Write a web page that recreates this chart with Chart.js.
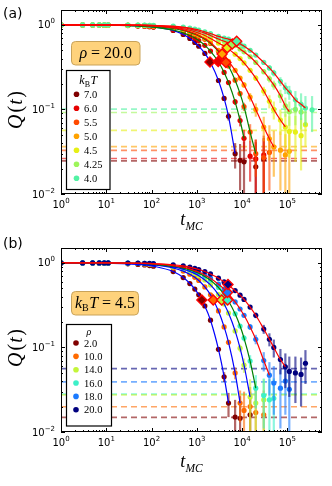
<!DOCTYPE html>
<html>
<head>
<meta charset="utf-8">
<script src="https://cdn.jsdelivr.net/npm/chart.js@4.4.1/dist/chart.umd.min.js"></script>
<style>
  html, body { margin: 0; padding: 0; background: #fff; }
  #wrap { position: relative; width: 332px; height: 486px; }
  canvas { position: absolute; left: 0; }
</style>
</head>
<body>
<div id="wrap">
  <canvas id="chartA" width="332" height="232" style="top:0"></canvas>
  <canvas id="chartB" width="332" height="254" style="top:232px"></canvas>
</div>
<script>
// ---- shared axes ----
const TIMES = [1, 3, 5, 7, 9, 11, 30, 50, 70, 90, 110, 300, 500, 700, 900, 1100, 1500, 2000, 3000, 4000,
  5000, 7000, 9000, 11000, 15000, 20000, 30000, 40000, 50000, 70000, 90000, 110000, 150000, 200000, 250000, 350000];
const X_MIN = 1, X_MAX = 5.8e5;
const Y_MIN = 0.01, Y_MAX = 1.5;
const X_TICKS = [1, 10, 100, 1000, 10000, 100000];
const X_EXP = ['0', '1', '2', '3', '4', '5'];
const Y_TICKS = [0.01, 0.1, 1];
const Y_EXP = ['\u22122', '\u22121', '0'];

// ---- panel (a): rho = 20.0, several kB T ----
const kT_LABELS = ['7.0', '6.0', '5.5', '5.0', '4.5', '4.25', '4.0'];
const kT_COLORS = ['#800000', '#e60000', '#ff4a00', '#ffa200', '#e6ef16', '#9df55a', '#52f2a4'];
const kT_FIT_COLORS = ['#0000ff', '#008000', '#008000', '#ff0000', '#ff0000', '#ff0000', '#ff0000'];
const kT_FIT_END = [7000, 11000, 20000, 50000, 90000, 110000, 250000];
const kT_PLATEAU = [0.0246, 0.0263, 0.0328, 0.0363, 0.0566, 0.092, 0.101];
const kT_TAU = [1950, 2960, 4380, 3600, 4700, 6040, 7570];
const kT_Q_TAU = [0.365, 0.37, 0.36, 0.454, 0.535, 0.596, 0.64];

const Q_kT70 = [1, .998, .997, .996, .995, .994, .985, .975, .965, .955, .945, .86, .77, .69, .62, .56, .46, .36, .22, .135, .083, .03, .025, .024, null, .021, .026];
const Q_kT60 = [.999, .997, .996, .994, .993, .992, .981, .97, .961, .95, .943, .87, .806, .749, .698, .652, .573, .49, .364, .274, .208, .123, .074, .0455, .028, .026, .029];
const Q_kT55 = [.999, .998, .997, .996, .995, .995, .987, .98, .973, .967, .96, .907, .86, .816, .777, .74, .675, .603, .487, .397, .326, .222, .154, .108, .054, .03, .027, .031];
const Q_kT50 = [1, .999, .998, .997, .996, .996, .99, .985, .98, .975, .97, .92, .875, .83, .79, .755, .69, .62, .5, .43, .37, .29, .235, .195, .14, .1, .062, .045, .036, .033, .029, .032];
const Q_kT45 = [1, .999, .999, .998, .998, .997, .993, .99, .986, .982, .978, .94, .9, .865, .83, .8, .75, .69, .61, .56, .52, .45, .4, .355, .29, .235, .165, .125, .1, .075, .062, .055, .054, .049, .066];
const Q_kT425 = [1, 1, .999, .999, .998, .998, .995, .992, .989, .986, .983, .955, .925, .895, .865, .84, .8, .75, .68, .64, .615, .57, .52, .48, .42, .36, .28, .23, .195, .145, .11, .094, .1, .093];
const Q_kT40 = [1, 1, 1, .999, .999, .999, .996, .994, .992, .99, .987, .965, .94, .915, .89, .87, .83, .79, .73, .7, .68, .645, .6, .56, .5, .44, .36, .31, .27, .215, .18, .16, .13, .115, .104, .099];

const E_kT70 = [0, 0, 0, 0, 0, 0, 0, 0, 0, 0, .002, .004, .005, .005, .006, .006, .006, .007, .008, .008, .009, .01, .014, .018, 0, .02, .02];
const E_kT60 = [0, 0, 0, 0, 0, 0, 0, 0, 0, 0, .002, .004, .005, .005, .006, .006, .006, .007, .008, .008, .009, .01, .011, .012, .014, .018, .02];
const E_kT55 = [0, 0, 0, 0, 0, 0, 0, 0, 0, 0, .002, .004, .005, .005, .006, .006, .006, .007, .008, .008, .009, .01, .011, .012, .013, .014, .018, .02];
const E_kT50 = [0, 0, 0, 0, 0, 0, 0, 0, 0, 0, .002, .004, .005, .005, .006, .006, .007, .008, .009, .01, .011, .012, .013, .014, .016, .018, .02, .02, .02, .022, .022, .022];
const E_kT45 = [0, 0, 0, 0, 0, 0, 0, 0, 0, 0, .002, .003, .004, .005, .005, .006, .007, .008, .009, .01, .011, .012, .013, .014, .016, .018, .02, .022, .024, .025, .026, .028, .03, .03, .03];
const E_kT425 = [0, 0, 0, 0, 0, 0, 0, 0, 0, 0, .002, .003, .004, .005, .005, .006, .007, .008, .009, .01, .011, .012, .013, .014, .016, .018, .02, .022, .024, .026, .028, .03, .035, .035];
const E_kT40 = [0, 0, 0, 0, 0, 0, 0, 0, 0, 0, .002, .003, .004, .005, .005, .006, .007, .008, .009, .01, .011, .012, .013, .014, .016, .018, .02, .022, .024, .026, .028, .03, .035, .04, .04, .045];

// ---- panel (b): kB T = 4.5, several rho ----
const RHO_LABELS = ['2.0', '10.0', '14.0', '16.0', '18.0', '20.0'];
const RHO_COLORS = ['#800000', '#ff6a00', '#c4f53a', '#3df0c8', '#1a7aff', '#00007f'];
const RHO_FIT_COLORS = ['#0000ff', '#0000ff', '#0000ff', '#008000', '#ff0000', '#ff0000'];
const RHO_FIT_END = [5000, 9000, 15000, 20000, 40000, 90000];
const RHO_PLATEAU = [0.0149, 0.0199, 0.0275, 0.028, 0.0392, 0.0563];
const RHO_TAU = [1290, 2300, 3530, 4790, 4740, 4870];
const RHO_Q_TAU = [0.364, 0.364, 0.364, 0.364, 0.447, 0.555];

const Q_rho2 = [1, .997, .995, .993, .99, .988, .975, .96, .945, .93, .915, .79, .67, .57, .49, .42, .31, .21, .095, .045, .022, .015, .0145, null, .016];
const Q_rho10 = [1, .998, .997, .996, .995, .994, .985, .978, .97, .96, .95, .87, .8, .735, .675, .62, .52, .42, .27, .175, .115, .05, .022, .018, .02, .017, .016];
const Q_rho14 = [1, .999, .998, .997, .996, .996, .99, .985, .978, .97, .957, .897, .842, .792, .747, .705, .629, .549, .422, .327, .255, .157, .098, .062, .026, .022, .024];
const Q_rho16 = [1, .999, .999, .998, .997, .997, .992, .987, .982, .975, .962, .912, .867, .826, .789, .754, .692, .624, .512, .425, .354, .25, .179, .129, .069, .033, .027, .024, .025];
const Q_rho18 = [1, 1, .999, .999, .998, .998, .994, .99, .986, .981, .975, .93, .89, .85, .81, .78, .72, .66, .56, .49, .43, .345, .285, .24, .175, .125, .07, .047, .038, .033, .04, .032];
const Q_rho20 = [1, 1, 1, .999, .999, .999, .996, .993, .99, .986, .98, .95, .92, .89, .86, .835, .79, .74, .66, .595, .545, .47, .415, .37, .3, .24, .165, .125, .1, .072, .059, .052, .05, .048, .065];

const E_rho2 = [0, 0, 0, 0, 0, 0, 0, 0, 0, 0, .002, .004, .005, .005, .006, .006, .006, .006, .006, .006, .007, .009, .012, 0, .014];
const E_rho10 = [0, 0, 0, 0, 0, 0, 0, 0, 0, 0, .002, .004, .005, .005, .006, .006, .006, .007, .007, .007, .008, .008, .009, .012, .014, .015, .015];
const E_rho14 = [0, 0, 0, 0, 0, 0, 0, 0, 0, 0, .002, .004, .005, .005, .006, .006, .006, .007, .007, .007, .008, .009, .01, .012, .016, .018, .018];
const E_rho16 = [0, 0, 0, 0, 0, 0, 0, 0, 0, 0, .002, .004, .005, .005, .006, .006, .006, .007, .007, .007, .008, .009, .01, .011, .012, .014, .016, .018, .018];
const E_rho18 = [0, 0, 0, 0, 0, 0, 0, 0, 0, 0, .002, .004, .005, .005, .006, .006, .006, .007, .007, .008, .009, .01, .011, .012, .014, .016, .018, .02, .022, .022, .024, .024];
const E_rho20 = [0, 0, 0, 0, 0, 0, 0, 0, 0, 0, .002, .004, .005, .005, .006, .006, .006, .007, .008, .009, .01, .011, .012, .014, .016, .018, .02, .022, .024, .024, .026, .026, .028, .028, .028];

// ---- helpers ----
const SERIF = '"Liberation Serif", "DejaVu Serif", serif';
const SANS = '"DejaVu Sans", sans-serif';

function alpha(hex, a) {
  const n = parseInt(hex.slice(1), 16);
  return `rgba(${n >> 16},${(n >> 8) & 255},${n & 255},${a})`;
}

function seriesPoints(q, err) {
  const pts = [];
  q.forEach((v, k) => {
    if (v !== null) pts.push({ x: TIMES[k], y: v, e: err[k] || 0 });
  });
  return pts;
}

function richWidth(ctx, segs) {
  let w = 0;
  segs.forEach(s => { ctx.font = s.font; w += ctx.measureText(s.text).width + (s.gap || 0); });
  return w;
}

function drawRich(ctx, segs, x, y) {
  segs.forEach(s => {
    ctx.font = s.font;
    ctx.fillText(s.text, x, y + (s.dy || 0));
    x += ctx.measureText(s.text).width + (s.gap || 0);
  });
}

function powSegs(exp) {
  return [{ text: '10', font: `10px ${SANS}` }, { text: exp, font: `7px ${SANS}`, dy: -5 }];
}

function roundRect(ctx, x, y, w, h, r) {
  ctx.beginPath();
  ctx.moveTo(x + r, y);
  ctx.arcTo(x + w, y, x + w, y + h, r);
  ctx.arcTo(x + w, y + h, x, y + h, r);
  ctx.arcTo(x, y + h, x, y, r);
  ctx.arcTo(x, y, x + w, y, r);
  ctx.closePath();
}

function buildDatasets(p) {
  const ds = [];
  p.values.forEach((q, i) => {
    const pts = seriesPoints(q, p.errors[i]);
    ds.push({
      data: [{ x: X_MIN, y: p.plateau[i] }, { x: X_MAX, y: p.plateau[i] }],
      showLine: true, borderColor: alpha(p.colors[i], 0.6), borderWidth: 1.7,
      borderDash: [6, 4], pointRadius: 0, order: 100 + i
    });
    ds.push({
      data: pts, showLine: false, pointRadius: 2.6, pointHoverRadius: 2.6,
      backgroundColor: p.colors[i], borderWidth: 0, order: 60 - i,
      errColor: alpha(p.colors[i], 0.6)
    });
    ds.push({
      data: pts.filter(pt => pt.x <= p.fitEnd[i]), showLine: true,
      borderColor: p.fitColors[i], borderWidth: 1.2, pointRadius: 0,
      cubicInterpolationMode: 'monotone', order: 30 - i
    });
    ds.push({
      data: [{ x: p.tau[i], y: p.qTau[i] }], pointStyle: 'rectRot', pointRadius: 5,
      backgroundColor: p.colors[i], borderColor: '#ff0000', borderWidth: 1.4, order: 10 - i
    });
  });
  return ds;
}

function makeDecor(p) {
  return {
    id: 'decor',
    beforeDatasetDraw(chart, args) {
      const ds = chart.data.datasets[args.index];
      if (!ds.errColor) return;
      const { ctx, chartArea: a, scales: { x, y } } = chart;
      ctx.save();
      ctx.beginPath();
      ctx.rect(a.left, a.top, a.right - a.left, a.bottom - a.top);
      ctx.clip();
      ctx.strokeStyle = ds.errColor;
      ctx.lineWidth = 2.2;
      ds.data.forEach(pt => {
        if (!pt.e) return;
        const px = x.getPixelForValue(pt.x);
        const lo = Math.max(pt.y - pt.e, 1e-4);
        ctx.beginPath();
        ctx.moveTo(px, y.getPixelForValue(pt.y + pt.e));
        ctx.lineTo(px, y.getPixelForValue(lo));
        ctx.stroke();
      });
      ctx.restore();
    },
    afterDraw(chart) {
      const { ctx, chartArea: a, scales: { x, y } } = chart;
      ctx.save();
      ctx.strokeStyle = '#000';
      ctx.lineWidth = 1;
      ctx.strokeRect(a.left + 0.5, a.top + 0.5, a.right - a.left - 1, a.bottom - a.top - 1);

      const tick = (x1, y1, x2, y2) => { ctx.beginPath(); ctx.moveTo(x1, y1); ctx.lineTo(x2, y2); ctx.stroke(); };
      for (let d = 0; d <= 5; d++) {
        for (let k = 1; k <= 9; k++) {
          const v = k * Math.pow(10, d);
          if (v > X_MAX) break;
          const px = Math.round(x.getPixelForValue(v)) + 0.5;
          const len = k === 1 ? 4 : 2;
          tick(px, a.bottom, px, a.bottom - len);
          tick(px, a.top, px, a.top + len);
        }
      }
      for (let d = -2; d <= 0; d++) {
        for (let k = 1; k <= 9; k++) {
          const v = k * Math.pow(10, d);
          if (v > Y_MAX) break;
          const py = Math.round(y.getPixelForValue(v)) + 0.5;
          const len = k === 1 ? 4 : 2;
          tick(a.left, py, a.left + len, py);
          tick(a.right, py, a.right - len, py);
        }
      }

      // tick labels
      ctx.fillStyle = '#000';
      ctx.textBaseline = 'alphabetic';
      ctx.textAlign = 'left';
      X_TICKS.forEach((v, i) => {
        const segs = powSegs(X_EXP[i]);
        const w = richWidth(ctx, segs);
        drawRich(ctx, segs, x.getPixelForValue(v) - w / 2, a.bottom + 13.5);
      });
      Y_TICKS.forEach((v, i) => {
        const segs = powSegs(Y_EXP[i]);
        const w = richWidth(ctx, segs);
        drawRich(ctx, segs, a.left - 6 - w, y.getPixelForValue(v) + 3.5);
      });

      // axis titles
      const xt = [{ text: 't', font: `italic 18px ${SERIF}` }, { text: 'MC', font: `italic 11.5px ${SERIF}`, dy: 5 }];
      const xw = richWidth(ctx, xt);
      drawRich(ctx, xt, (a.left + a.right) / 2 - xw / 2, p.xTitleY);

      ctx.save();
      ctx.translate(15, p.yTitleY);
      ctx.rotate(-Math.PI / 2);
      const yt = [{ text: 'Q', font: `italic 20px ${SERIF}`, gap: 2 }, { text: '(', font: `20px ${SERIF}`, gap: 1 },
        { text: 't', font: `italic 20px ${SERIF}`, gap: 1.5 }, { text: ')', font: `20px ${SERIF}` }];
      const yw = richWidth(ctx, yt);
      drawRich(ctx, yt, -yw / 2, 6.5);
      ctx.restore();

      // panel letter
      ctx.font = `14px ${SANS}`;
      ctx.fillText(p.letter, 3, p.letterY);

      // annotation box
      const b = p.box;
      roundRect(ctx, b.x, b.y, b.w, b.h, 4);
      ctx.fillStyle = '#fed27c';
      ctx.fill();
      ctx.strokeStyle = '#c9a35a';
      ctx.lineWidth = 1;
      ctx.stroke();
      ctx.fillStyle = '#000';
      const bw = richWidth(ctx, p.boxText);
      drawRich(ctx, p.boxText, b.x + b.w / 2 - bw / 2, b.y + b.h / 2 + 5);

      // legend
      const L = p.legend;
      ctx.fillStyle = '#fff';
      ctx.fillRect(L.x, L.y, L.w, L.h);
      ctx.strokeStyle = '#000';
      ctx.lineWidth = 1.2;
      ctx.strokeRect(L.x, L.y, L.w, L.h);
      ctx.fillStyle = '#000';
      const tw = richWidth(ctx, p.legendTitle);
      drawRich(ctx, p.legendTitle, L.x + L.w / 2 - tw / 2, L.titleY);
      p.labels.forEach((lab, i) => {
        const yy = L.y0 + i * L.step;
        ctx.fillStyle = p.colors[i];
        ctx.beginPath();
        ctx.arc(L.dotX, yy, 2.8, 0, Math.PI * 2);
        ctx.fill();
        ctx.fillStyle = '#000';
        ctx.font = `10.5px ${SERIF}`;
        ctx.fillText(lab, L.textX, yy + 3.6);
      });
      ctx.restore();
    }
  };
}

function makeChart(id, p) {
  return new Chart(document.getElementById(id), {
    type: 'scatter',
    data: { datasets: buildDatasets(p) },
    options: {
      responsive: false,
      animation: false,
      devicePixelRatio: 1,
      layout: { padding: { left: 61, right: 10, top: p.top, bottom: p.bottom } },
      plugins: { legend: { display: false }, tooltip: { enabled: false } },
      scales: {
        x: { type: 'logarithmic', min: X_MIN, max: X_MAX, display: false },
        y: { type: 'logarithmic', min: Y_MIN, max: Y_MAX, display: false }
      }
    },
    plugins: [makeDecor(p)]
  });
}

makeChart('chartA', {
  top: 10, bottom: 38, letter: '(a)', letterY: 18, xTitleY: 225, yTitleY: 110,
  labels: kT_LABELS, colors: kT_COLORS, fitColors: kT_FIT_COLORS, fitEnd: kT_FIT_END,
  plateau: kT_PLATEAU, tau: kT_TAU, qTau: kT_Q_TAU,
  values: [Q_kT70, Q_kT60, Q_kT55, Q_kT50, Q_kT45, Q_kT425, Q_kT40],
  errors: [E_kT70, E_kT60, E_kT55, E_kT50, E_kT45, E_kT425, E_kT40],
  box: { x: 71.5, y: 41.5, w: 68.5, h: 23.5 },
  boxText: [{ text: '\u03c1', font: `italic 16px ${SERIF}` }, { text: ' = 20.0', font: `16px ${SERIF}` }],
  legend: { x: 66.5, y: 70.5, w: 43.5, h: 119, titleY: 84, y0: 94.3, step: 14, dotX: 76.5, textX: 84 },
  legendTitle: [{ text: 'k', font: `italic 12px ${SERIF}` }, { text: 'B', font: `8px ${SERIF}`, dy: 2.5, gap: 0.5 },
    { text: 'T', font: `italic 12px ${SERIF}` }]
});

makeChart('chartB', {
  top: 16, bottom: 54, letter: '(b)', letterY: 16, xTitleY: 235, yTitleY: 116,
  labels: RHO_LABELS, colors: RHO_COLORS, fitColors: RHO_FIT_COLORS, fitEnd: RHO_FIT_END,
  plateau: RHO_PLATEAU, tau: RHO_TAU, qTau: RHO_Q_TAU,
  values: [Q_rho2, Q_rho10, Q_rho14, Q_rho16, Q_rho18, Q_rho20],
  errors: [E_rho2, E_rho10, E_rho14, E_rho16, E_rho18, E_rho20],
  box: { x: 71.5, y: 59.5, w: 67, h: 23.5 },
  boxText: [{ text: 'k', font: `italic 16px ${SERIF}` }, { text: 'B', font: `10px ${SERIF}`, dy: 3, gap: 0.5 },
    { text: 'T', font: `italic 16px ${SERIF}` }, { text: ' = 4.5', font: `16px ${SERIF}` }],
  legend: { x: 66.5, y: 92.5, w: 45, h: 101.5, titleY: 103, y0: 111, step: 13.35, dotX: 76, textX: 84 },
  legendTitle: [{ text: '\u03c1', font: `italic 10px ${SERIF}` }]
});
</script>
</body>
</html>
